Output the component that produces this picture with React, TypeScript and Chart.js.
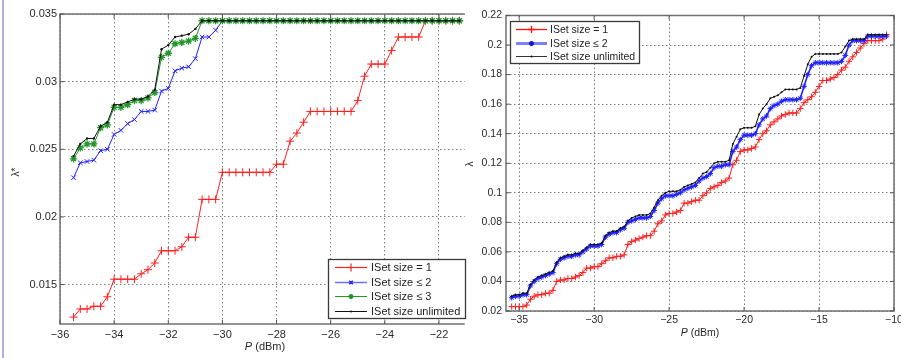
import React, { useEffect, useRef } from 'react';
import { Chart, registerables } from 'chart.js';

Chart.register(...registerables);

const FONT_FAMILY = "'Liberation Sans', Arial, Helvetica, sans-serif";

// ---------------- Left chart data ----------------
const leftP = [
  -35.5, -35.25, -35, -34.75, -34.5, -34.25, -34, -33.75, -33.5, -33.25,
  -33, -32.75, -32.5, -32.25, -32, -31.75, -31.5, -31.25, -31, -30.75,
  -30.5, -30.25, -30, -29.75, -29.5, -29.25, -29, -28.75, -28.5, -28.25,
  -28, -27.75, -27.5, -27.25, -27, -26.75, -26.5, -26.25, -26, -25.75,
  -25.5, -25.25, -25, -24.75, -24.5, -24.25, -24, -23.75, -23.5, -23.25,
  -23, -22.75, -22.5, -22.25, -22, -21.75, -21.5, -21.25,
];
const leftSize1 = [
  0.0126, 0.0132, 0.0132, 0.0134, 0.0134, 0.0141, 0.0154, 0.0154, 0.0154, 0.0154,
  0.0158, 0.0161, 0.0166, 0.0175, 0.0175, 0.0175, 0.0178, 0.0185, 0.0185, 0.0213,
  0.0213, 0.0213, 0.0233, 0.0233, 0.0233, 0.0233, 0.0233, 0.0233, 0.0233, 0.0233,
  0.0239, 0.0239, 0.0256, 0.0262, 0.027, 0.0278, 0.0278, 0.0278, 0.0278, 0.0278,
  0.0278, 0.0278, 0.0286, 0.0304, 0.0313, 0.0313, 0.0313, 0.0323, 0.0333, 0.0333,
  0.0333, 0.0333, 0.0345, 0.0345, 0.0345, 0.0345, 0.0345, 0.0345,
];
const leftSize2 = [
  0.0229, 0.024, 0.0241, 0.0242, 0.0249, 0.025, 0.0261, 0.0264, 0.0269, 0.0272,
  0.0278, 0.0278, 0.0279, 0.0293, 0.0295, 0.0308, 0.031, 0.0311, 0.0317, 0.0333,
  0.0333, 0.0338, 0.0345, 0.0345, 0.0345, 0.0345, 0.0345, 0.0345, 0.0345, 0.0345,
  0.0345, 0.0345, 0.0345, 0.0345, 0.0345, 0.0345, 0.0345, 0.0345, 0.0345, 0.0345,
  0.0345, 0.0345, 0.0345, 0.0345, 0.0345, 0.0345, 0.0345, 0.0345, 0.0345, 0.0345,
  0.0345, 0.0345, 0.0345, 0.0345, 0.0345, 0.0345, 0.0345, 0.0345,
];
const leftSize3 = [
  0.0243, 0.0251, 0.0254, 0.0254, 0.0266, 0.0268, 0.0281, 0.0281, 0.0283, 0.0286,
  0.0286, 0.0288, 0.0292, 0.0318, 0.0321, 0.0328, 0.0329, 0.033, 0.0332, 0.0345,
  0.0345, 0.0345, 0.0345, 0.0345, 0.0345, 0.0345, 0.0345, 0.0345, 0.0345, 0.0345,
  0.0345, 0.0345, 0.0345, 0.0345, 0.0345, 0.0345, 0.0345, 0.0345, 0.0345, 0.0345,
  0.0345, 0.0345, 0.0345, 0.0345, 0.0345, 0.0345, 0.0345, 0.0345, 0.0345, 0.0345,
  0.0345, 0.0345, 0.0345, 0.0345, 0.0345, 0.0345, 0.0345, 0.0345,
];
const leftUnlimited = [
  0.0245, 0.0254, 0.0258, 0.0258, 0.0267, 0.027, 0.0283, 0.0283, 0.0285, 0.0287,
  0.0287, 0.0289, 0.0294, 0.0324, 0.0327, 0.0333, 0.0334, 0.0335, 0.0339, 0.0345,
  0.0345, 0.0345, 0.0345, 0.0345, 0.0345, 0.0345, 0.0345, 0.0345, 0.0345, 0.0345,
  0.0345, 0.0345, 0.0345, 0.0345, 0.0345, 0.0345, 0.0345, 0.0345, 0.0345, 0.0345,
  0.0345, 0.0345, 0.0345, 0.0345, 0.0345, 0.0345, 0.0345, 0.0345, 0.0345, 0.0345,
  0.0345, 0.0345, 0.0345, 0.0345, 0.0345, 0.0345, 0.0345, 0.0345,
];
const leftXTicks = [-36, -34, -32, -30, -28, -26, -24, -22];
const leftYTicks = [0.015, 0.02, 0.025, 0.03, 0.035];

// ---------------- Right chart data ----------------
const rightP = [
  -35.5, -35.25, -35, -34.75, -34.5, -34.25, -34, -33.75, -33.5, -33.25,
  -33, -32.75, -32.5, -32.25, -32, -31.75, -31.5, -31.25, -31, -30.75,
  -30.5, -30.25, -30, -29.75, -29.5, -29.25, -29, -28.75, -28.5, -28.25,
  -28, -27.75, -27.5, -27.25, -27, -26.75, -26.5, -26.25, -26, -25.75,
  -25.5, -25.25, -25, -24.75, -24.5, -24.25, -24, -23.75, -23.5, -23.25,
  -23, -22.75, -22.5, -22.25, -22, -21.75, -21.5, -21.25, -21, -20.75,
  -20.5, -20.25, -20, -19.75, -19.5, -19.25, -19, -18.75, -18.5, -18.25,
  -18, -17.75, -17.5, -17.25, -17, -16.75, -16.5, -16.25, -16, -15.75,
  -15.5, -15.25, -15, -14.75, -14.5, -14.25, -14, -13.75, -13.5, -13.25,
  -13, -12.75, -12.5, -12.25, -12, -11.75, -11.5, -11.25, -11, -10.75,
  -10.5,
];
const rightSize1 = [
  0.023, 0.023, 0.023, 0.023, 0.024, 0.028, 0.03, 0.031, 0.031, 0.032,
  0.032, 0.034, 0.04, 0.041, 0.041, 0.042, 0.042, 0.043, 0.044, 0.046,
  0.049, 0.049, 0.05, 0.05, 0.052, 0.054, 0.056, 0.056, 0.057, 0.057,
  0.058, 0.065, 0.067, 0.068, 0.069, 0.07, 0.071, 0.071, 0.074, 0.079,
  0.081, 0.085, 0.086, 0.086, 0.087, 0.088, 0.093, 0.093, 0.094, 0.095,
  0.095, 0.098, 0.1, 0.103, 0.104, 0.105, 0.107, 0.108, 0.11, 0.119,
  0.122, 0.128, 0.129, 0.129, 0.13, 0.131, 0.136, 0.14, 0.142, 0.146,
  0.148, 0.15, 0.152, 0.153, 0.154, 0.154, 0.154, 0.157, 0.161, 0.163,
  0.165, 0.168, 0.172, 0.176, 0.176, 0.177, 0.178, 0.18, 0.183, 0.185,
  0.189, 0.192, 0.195, 0.198, 0.201, 0.203, 0.203, 0.203, 0.203, 0.204,
  0.207,
];
const rightSize2 = [
  0.029, 0.03, 0.03, 0.031, 0.031, 0.037, 0.04, 0.042, 0.043, 0.044,
  0.045, 0.046, 0.052, 0.055, 0.056, 0.057, 0.057, 0.058, 0.058, 0.06,
  0.062, 0.064, 0.064, 0.064, 0.065, 0.07, 0.072, 0.073, 0.073, 0.075,
  0.076, 0.08, 0.081, 0.082, 0.083, 0.083, 0.083, 0.084, 0.088, 0.093,
  0.096, 0.098, 0.098, 0.098, 0.099, 0.1, 0.102, 0.103, 0.104, 0.105,
  0.108, 0.11, 0.111, 0.113, 0.117, 0.118, 0.118, 0.119, 0.119, 0.128,
  0.131, 0.136, 0.139, 0.139, 0.139, 0.14, 0.146, 0.15, 0.152, 0.157,
  0.159, 0.16, 0.162, 0.163, 0.163, 0.163, 0.163, 0.164, 0.172, 0.18,
  0.186, 0.188, 0.188, 0.188, 0.188, 0.188, 0.188, 0.188, 0.189, 0.193,
  0.2, 0.203, 0.203, 0.203, 0.203, 0.206, 0.206, 0.206, 0.206, 0.206,
  0.206,
];
const rightUnlimited = [
  0.03, 0.031, 0.031, 0.032, 0.032, 0.038, 0.041, 0.043, 0.044, 0.045,
  0.046, 0.047, 0.053, 0.056, 0.057, 0.058, 0.058, 0.059, 0.059, 0.061,
  0.063, 0.065, 0.065, 0.065, 0.066, 0.071, 0.073, 0.074, 0.074, 0.076,
  0.077, 0.081, 0.083, 0.084, 0.085, 0.085, 0.085, 0.086, 0.09, 0.095,
  0.098, 0.1, 0.101, 0.101, 0.101, 0.102, 0.104, 0.105, 0.106, 0.107,
  0.11, 0.113, 0.114, 0.117, 0.12, 0.121, 0.121, 0.121, 0.122, 0.133,
  0.138, 0.143, 0.144, 0.144, 0.144, 0.145, 0.153, 0.157, 0.16, 0.164,
  0.165, 0.166, 0.168, 0.17, 0.17, 0.17, 0.17, 0.171, 0.179, 0.187,
  0.192, 0.194, 0.194, 0.194, 0.194, 0.194, 0.194, 0.194, 0.195, 0.199,
  0.203, 0.204, 0.204, 0.204, 0.204, 0.207, 0.207, 0.207, 0.207, 0.207,
  0.207,
];
const rightXTicks = [-35, -30, -25, -20, -15, -10];
const rightYTicks = [0.02, 0.04, 0.06, 0.08, 0.1, 0.12, 0.14, 0.16, 0.18, 0.2, 0.22];

const labelSize1 = 'ISet size = 1';
const labelSize2 = 'ISet size \u2264 2';
const labelSize3 = 'ISet size \u2264 3';
const labelUnlimited = 'ISet size unlimited';
const xTitleItalic = 'P';
const xTitleRest = ' (dBm)';
const leftYTitle = '\u03BB*';
const rightYTitle = '\u03BB';

// ---------------- helpers ----------------
const toPoints = (xs: number[], ys: number[]) => xs.map((x, i) => ({ x, y: ys[i] }));
const fmtTick = (v: any) => String(Number(Number(v).toFixed(4))).replace('-', '\u2212');

function drawMarker(ctx: CanvasRenderingContext2D, style: string, x: number, y: number, r: number) {
  if (style === 'circle') {
    ctx.beginPath();
    ctx.arc(x, y, r, 0, Math.PI * 2);
    ctx.fill();
    return;
  }
  ctx.beginPath();
  if (style === 'cross' || style === 'star') {
    ctx.moveTo(x - r, y); ctx.lineTo(x + r, y);
    ctx.moveTo(x, y - r); ctx.lineTo(x, y + r);
  }
  if (style === 'crossRot' || style === 'star') {
    const d = r * 0.7071;
    ctx.moveTo(x - d, y - d); ctx.lineTo(x + d, y + d);
    ctx.moveTo(x - d, y + d); ctx.lineTo(x + d, y - d);
  }
  ctx.stroke();
}

type LegendStyle = { line: string; lineWidth: number; marker: string; markerColor: string; markerR: number; markerW: number };
type DecorCfg = {
  openRight: boolean;
  legend: { x0: number; y0: number; x1: number; y1: number; lineX0: number; lineX1: number; textX: number; rowY: number[]; fontSize: number; styles: LegendStyle[] };
  xTitle: { x: number; y: number; size: number };
  yTitle: { x: number; y: number; size: number; text: string };
};

function makeDecor(cfg: DecorCfg) {
  return {
    id: 'matlabDecor',
    afterDraw(chart: any) {
      const ctx: CanvasRenderingContext2D = chart.ctx;
      const { left, right, top, bottom } = chart.chartArea;
      ctx.save();
      // axes box
      ctx.strokeStyle = '#707070';
      ctx.lineWidth = 1.5;
      ctx.beginPath();
      if (cfg.openRight) {
        ctx.moveTo(right, top); ctx.lineTo(left, top); ctx.lineTo(left, bottom); ctx.lineTo(right, bottom);
      } else {
        ctx.rect(left, top, right - left, bottom - top);
      }
      ctx.stroke();
      // inward tick marks
      const xs = chart.scales.x;
      const ys = chart.scales.y;
      ctx.lineWidth = 1;
      ctx.strokeStyle = '#555555';
      ctx.beginPath();
      xs.ticks.forEach((t: any) => {
        const px = xs.getPixelForValue(t.value);
        ctx.moveTo(px, bottom); ctx.lineTo(px, bottom - 4);
        ctx.moveTo(px, top); ctx.lineTo(px, top + 4);
      });
      ys.ticks.forEach((t: any) => {
        const py = ys.getPixelForValue(t.value);
        ctx.moveTo(left, py); ctx.lineTo(left + 4, py);
        if (!cfg.openRight) { ctx.moveTo(right, py); ctx.lineTo(right - 4, py); }
      });
      ctx.stroke();

      // legend
      const L = cfg.legend;
      ctx.fillStyle = '#ffffff';
      ctx.fillRect(L.x0, L.y0, L.x1 - L.x0, L.y1 - L.y0);
      ctx.strokeStyle = '#3a3a3a';
      ctx.lineWidth = 1.3;
      ctx.strokeRect(L.x0, L.y0, L.x1 - L.x0, L.y1 - L.y0);
      ctx.font = `${L.fontSize}px ${FONT_FAMILY}`;
      ctx.textBaseline = 'middle';
      ctx.textAlign = 'left';
      chart.data.datasets.forEach((ds: any, i: number) => {
        const y = L.rowY[i];
        const st = L.styles[i];
        ctx.strokeStyle = st.line;
        ctx.lineWidth = st.lineWidth;
        ctx.beginPath();
        ctx.moveTo(L.lineX0, y); ctx.lineTo(L.lineX1, y);
        ctx.stroke();
        ctx.strokeStyle = st.markerColor;
        ctx.fillStyle = st.markerColor;
        ctx.lineWidth = st.markerW;
        drawMarker(ctx, st.marker, (L.lineX0 + L.lineX1) / 2, y, st.markerR);
        ctx.fillStyle = '#1e1e1e';
        ctx.fillText(ds.label, L.textX, y + 0.5);
      });

      // x title: italic P + regular (dBm)
      const T = cfg.xTitle;
      ctx.fillStyle = '#2a2a2a';
      ctx.textBaseline = 'middle';
      ctx.textAlign = 'left';
      ctx.font = `italic ${T.size}px ${FONT_FAMILY}`;
      const w1 = ctx.measureText(xTitleItalic).width;
      ctx.font = `${T.size}px ${FONT_FAMILY}`;
      const w2 = ctx.measureText(xTitleRest).width;
      const sx = T.x - (w1 + w2) / 2;
      ctx.font = `italic ${T.size}px ${FONT_FAMILY}`;
      ctx.fillText(xTitleItalic, sx, T.y);
      ctx.font = `${T.size}px ${FONT_FAMILY}`;
      ctx.fillText(xTitleRest, sx + w1, T.y);

      // y title (rotated)
      const Y = cfg.yTitle;
      ctx.translate(Y.x, Y.y);
      ctx.rotate(-Math.PI / 2);
      ctx.textAlign = 'center';
      ctx.font = `${Y.size}px ${FONT_FAMILY}`;
      ctx.fillText(Y.text, 0, 0);
      ctx.restore();
    },
  };
}

function scaleOpts(min: number, max: number, ticks: number[], fontSize: number, fitSize: number, axis: 'x' | 'y', pad: number) {
  return {
    type: 'linear',
    min,
    max,
    afterBuildTicks: (s: any) => { s.ticks = ticks.map((v) => ({ value: v })); },
    afterFit: (s: any) => {
      if (axis === 'x') s.height = fitSize; else s.width = fitSize;
      s.paddingLeft = 0; s.paddingRight = 0; s.paddingTop = 0; s.paddingBottom = 0;
    },
    ticks: {
      autoSkip: false,
      maxRotation: 0,
      minRotation: 0,
      padding: pad,
      color: '#2a2a2a',
      font: { family: FONT_FAMILY, size: fontSize },
      callback: (v: any) => fmtTick(v),
    },
    grid: { color: '#7c7c7c', lineWidth: 1, drawTicks: false },
    border: { display: false, dash: [1.5, 2.5] },
  };
}

const RED = '#ff2020';
const BLUE = '#2020ff';
const GREEN = '#22962a';
const BLACK = '#111111';

function leftConfig(): any {
  return {
    type: 'line',
    data: {
      datasets: [
        { label: labelSize1, data: toPoints(leftP, leftSize1), borderColor: RED, borderWidth: 1, pointStyle: 'cross', pointRadius: 4, pointBorderColor: RED, pointBorderWidth: 1, pointBackgroundColor: RED, fill: false, tension: 0, order: 4 },
        { label: labelSize2, data: toPoints(leftP, leftSize2), borderColor: BLUE, borderWidth: 1, pointStyle: 'crossRot', pointRadius: 3.2, pointBorderColor: BLUE, pointBorderWidth: 1, pointBackgroundColor: BLUE, fill: false, tension: 0, order: 3 },
        { label: labelSize3, data: toPoints(leftP, leftSize3), borderColor: GREEN, borderWidth: 1, pointStyle: 'star', pointRadius: 3.6, pointBorderColor: GREEN, pointBorderWidth: 1.3, pointBackgroundColor: GREEN, fill: false, tension: 0, order: 2 },
        { label: labelUnlimited, data: toPoints(leftP, leftUnlimited), borderColor: BLACK, borderWidth: 1, pointStyle: 'circle', pointRadius: 1.2, pointBorderColor: BLACK, pointBorderWidth: 0, pointBackgroundColor: BLACK, fill: false, tension: 0, order: 1 },
      ],
    },
    options: {
      animation: false,
      responsive: false,
      maintainAspectRatio: false,
      events: [],
      layout: { padding: { top: 14, left: 0, right: 2, bottom: 0 } },
      plugins: { legend: { display: false }, tooltip: { enabled: false }, title: { display: false } },
      scales: {
        x: scaleOpts(-36, -21.05, leftXTicks, 11, 34, 'x', 4),
        y: scaleOpts(0.01209, 0.035, leftYTicks, 11, 60, 'y', 3),
      },
    },
    plugins: [
      makeDecor({
        openRight: true,
        legend: {
          x0: 328.5, y0: 259.5, x1: 465.5, y1: 318.5, lineX0: 335, lineX1: 367, textX: 371, rowY: [267.5, 282.5, 296.5, 311.5], fontSize: 11,
          styles: [
            { line: RED, lineWidth: 1.2, marker: 'cross', markerColor: RED, markerR: 4, markerW: 1.2 },
            { line: '#7070ff', lineWidth: 1.5, marker: 'crossRot', markerColor: BLUE, markerR: 2.5, markerW: 1.5 },
            { line: GREEN, lineWidth: 1, marker: 'star', markerColor: GREEN, markerR: 2.5, markerW: 1.5 },
            { line: BLACK, lineWidth: 1, marker: 'circle', markerColor: BLACK, markerR: 1, markerW: 1 },
          ],
        },
        xTitle: { x: 265, y: 347, size: 11 },
        yTitle: { x: 16, y: 172, size: 10, text: leftYTitle },
      }),
    ],
  };
}

function rightConfig(): any {
  return {
    type: 'line',
    data: {
      datasets: [
        { label: labelSize1, data: toPoints(rightP, rightSize1), borderColor: RED, borderWidth: 1, pointStyle: 'cross', pointRadius: 3.2, pointBorderColor: RED, pointBorderWidth: 1, pointBackgroundColor: RED, fill: false, tension: 0, order: 3 },
        { label: labelSize2, data: toPoints(rightP, rightSize2), borderColor: BLUE, borderWidth: 1.6, pointStyle: 'star', pointRadius: 2.8, pointBorderColor: BLUE, pointBorderWidth: 1, pointBackgroundColor: BLUE, fill: false, tension: 0, order: 2 },
        { label: labelUnlimited, data: toPoints(rightP, rightUnlimited), borderColor: BLACK, borderWidth: 1, pointStyle: 'circle', pointRadius: 1, pointBorderColor: BLACK, pointBorderWidth: 0, pointBackgroundColor: BLACK, fill: false, tension: 0, order: 1 },
      ],
    },
    options: {
      animation: false,
      responsive: false,
      maintainAspectRatio: false,
      events: [],
      layout: { padding: { top: 15.5, left: 0, right: 7, bottom: 0 } },
      plugins: { legend: { display: false }, tooltip: { enabled: false }, title: { display: false } },
      scales: {
        x: scaleOpts(-35.88, -10, rightXTicks, 10.5, 47, 'x', 3),
        y: scaleOpts(0.02, 0.22, rightYTicks, 10.5, 44, 'y', 4),
      },
    },
    plugins: [
      makeDecor({
        openRight: false,
        legend: {
          x0: 48.5, y0: 21.5, x1: 177.5, y1: 63.5, lineX0: 54, lineX1: 85, textX: 88, rowY: [29.5, 43.5, 56.5], fontSize: 10.5,
          styles: [
            { line: '#ff1010', lineWidth: 1.3, marker: 'cross', markerColor: '#ff1010', markerR: 3.5, markerW: 1.3 },
            { line: '#8080ff', lineWidth: 3, marker: 'star', markerColor: '#1010e0', markerR: 2.5, markerW: 1.5 },
            { line: '#333333', lineWidth: 1, marker: 'circle', markerColor: BLACK, markerR: 1, markerW: 1 },
          ],
        },
        xTitle: { x: 238, y: 333, size: 10.5 },
        yTitle: { x: 8, y: 164, size: 10, text: rightYTitle },
      }),
    ],
  };
}

function ChartCanvas({ makeConfig, left, width }: { makeConfig: () => any; left: number; width: number }) {
  const ref = useRef<HTMLCanvasElement>(null);
  useEffect(() => {
    if (!ref.current) return;
    const chart = new Chart(ref.current, makeConfig());
    return () => chart.destroy();
  }, []);
  return (
    <canvas
      ref={ref}
      width={width}
      height={358}
      style={{ position: 'absolute', left, top: 0, width, height: 358, display: 'block' }}
    />
  );
}

export default function App() {
  return (
    <div style={{ position: 'absolute', left: 0, top: 0, width: 901, height: 358, background: '#ffffff', overflow: 'hidden' }}>
      <div style={{ position: 'absolute', left: 2, top: 0, width: 2, height: 358, background: '#b0b0da' }} />
      <ChartCanvas makeConfig={leftConfig} left={0} width={470} />
      <ChartCanvas makeConfig={rightConfig} left={462} width={439} />
    </div>
  );
}
